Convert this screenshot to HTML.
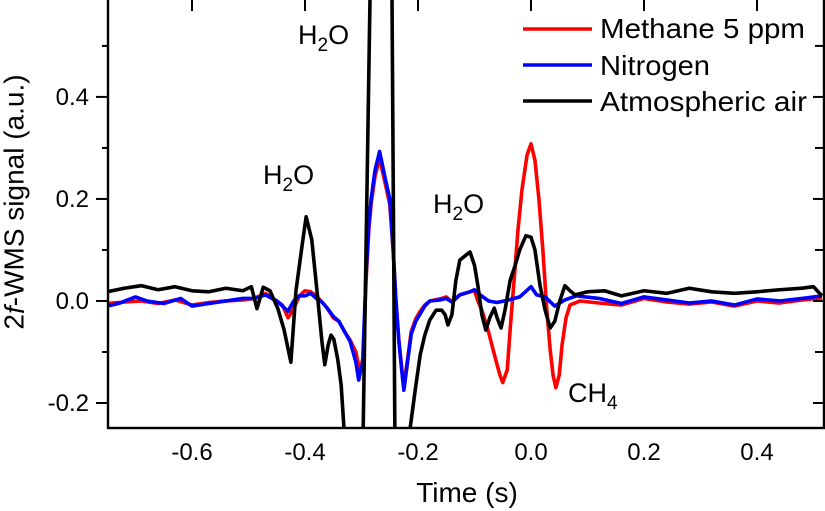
<!DOCTYPE html>
<html><head><meta charset="utf-8">
<style>
html,body{margin:0;padding:0;background:#fff;}
svg{display:block;font-family:"Liberation Sans",Arial,sans-serif;}
</style></head>
<body>
<svg id="chart" width="825" height="511" viewBox="0 0 825 511">
<defs><clipPath id="plotclip"><rect x="108" y="0" width="716" height="428"/></clipPath></defs>
<g id="series" clip-path="url(#plotclip)"></g>
<rect x="108" y="-2" width="716" height="430" fill="none" stroke="#000" stroke-width="2.4"/>
<g id="axes"></g>
<text x="14" y="202" font-size="28" text-anchor="middle" transform="rotate(-90 14 202)" dominant-baseline="central">2<tspan font-style="italic">f</tspan>-WMS signal (a.u.)</text>
<text x="467" y="502" font-size="28" text-anchor="middle">Time (s)</text>
<text x="298" y="44" font-size="27">H<tspan font-size="19" dy="7">2</tspan><tspan dy="-7">O</tspan></text>
<text x="263" y="184" font-size="27">H<tspan font-size="19" dy="7">2</tspan><tspan dy="-7">O</tspan></text>
<text x="433" y="213" font-size="27">H<tspan font-size="19" dy="7">2</tspan><tspan dy="-7">O</tspan></text>
<text x="568" y="402" font-size="27">CH<tspan font-size="19" dy="7">4</tspan></text>
<g>
<line x1="523" y1="29" x2="592" y2="29" stroke="#ff0000" stroke-width="3.5"/>
<text x="600" y="38" font-size="28" textLength="205" lengthAdjust="spacingAndGlyphs">Methane 5 ppm</text>
<line x1="523" y1="65" x2="592" y2="65" stroke="#0000ff" stroke-width="3.5"/>
<text x="600" y="75" font-size="28" textLength="110" lengthAdjust="spacingAndGlyphs">Nitrogen</text>
<line x1="523" y1="101" x2="592" y2="101" stroke="#000" stroke-width="3.5"/>
<text x="600" y="111" font-size="28" textLength="207" lengthAdjust="spacingAndGlyphs">Atmospheric air</text>
</g>
</svg>
<script>
const xTicks = [-0.6, -0.4, -0.2, 0.0, 0.2, 0.4];
const xTickLabels = ["-0.6", "-0.4", "-0.2", "0.0", "0.2", "0.4"];
const yTicks = [-0.2, 0.0, 0.2, 0.4];
const yTickLabels = ["-0.2", "0.0", "0.2", "0.4"];
const yMinorTicks = [-0.1, 0.1, 0.3, 0.5];

const tAir = [-0.75,-0.72,-0.69,-0.66,-0.63,-0.60,-0.57,-0.54,-0.51,-0.495,-0.485,-0.474,-0.462,-0.448,-0.437,-0.425,-0.416,-0.405,-0.398,-0.388,-0.377,-0.37,-0.365,-0.359,-0.354,-0.349,-0.342,-0.336,-0.331,-0.32,-0.305,-0.297,-0.285,-0.275,-0.255,-0.246,-0.241,-0.23,-0.214,-0.205,-0.196,-0.188,-0.179,-0.168,-0.158,-0.152,-0.147,-0.14,-0.133,-0.126,-0.115,-0.108,-0.1,-0.094,-0.087,-0.08,-0.073,-0.065,-0.06,-0.053,-0.046,-0.037,-0.028,-0.02,-0.009,0.0,0.007,0.016,0.025,0.034,0.042,0.051,0.06,0.069,0.078,0.1,0.13,0.16,0.2,0.24,0.28,0.32,0.36,0.4,0.44,0.48,0.5,0.515];
const air = [0.018,0.025,0.03,0.022,0.028,0.02,0.018,0.025,0.02,0.028,-0.015,0.027,0.02,-0.015,-0.057,-0.12,0.02,0.11,0.165,0.12,0.0,-0.08,-0.125,-0.086,-0.067,-0.075,-0.115,-0.165,-0.25,-0.35,-0.4,-0.25,0.59,0.9,0.9,0.59,-0.25,-0.4,-0.25,-0.175,-0.105,-0.067,-0.037,-0.018,-0.018,-0.027,-0.047,-0.027,0.04,0.08,0.09,0.096,0.07,0.03,-0.027,-0.057,-0.033,-0.014,-0.033,-0.053,-0.018,0.04,0.07,0.1,0.128,0.125,0.1,0.03,-0.018,-0.053,-0.04,0.0,0.03,0.02,0.012,0.018,0.02,0.01,0.02,0.015,0.025,0.018,0.015,0.018,0.022,0.025,0.028,0.01];

const tN2 = [-0.75,-0.73,-0.70,-0.68,-0.65,-0.62,-0.60,-0.57,-0.54,-0.51,-0.49,-0.47,-0.45,-0.44,-0.43,-0.42,-0.41,-0.40,-0.39,-0.38,-0.37,-0.36,-0.35,-0.34,-0.33,-0.32,-0.31,-0.305,-0.298,-0.292,-0.287,-0.283,-0.276,-0.268,-0.258,-0.25,-0.244,-0.239,-0.234,-0.228,-0.225,-0.218,-0.212,-0.204,-0.196,-0.188,-0.179,-0.161,-0.15,-0.14,-0.126,-0.108,-0.1,-0.09,-0.075,-0.06,-0.04,-0.02,0.0,0.01,0.025,0.042,0.06,0.08,0.12,0.16,0.2,0.24,0.28,0.32,0.36,0.4,0.44,0.48,0.515];
const n2 = [-0.01,-0.005,0.008,0.0,-0.005,0.005,-0.01,-0.005,0.0,0.005,0.005,0.012,0.0,-0.01,-0.02,0.0,0.01,0.01,0.015,0.005,-0.002,-0.015,-0.03,-0.04,-0.06,-0.08,-0.12,-0.155,-0.12,0.05,0.15,0.2,0.257,0.293,0.24,0.2,0.1,0.0,-0.077,-0.145,-0.175,-0.115,-0.065,-0.04,-0.025,-0.01,0.0,0.002,0.005,-0.002,0.012,0.018,0.022,0.012,0.0,-0.003,0.002,0.008,0.028,0.012,0.008,-0.01,0.002,0.01,0.005,-0.005,0.008,0.002,-0.004,0.0,-0.008,0.004,0.0,0.005,0.01];

const tCH4 = [-0.75,-0.72,-0.69,-0.66,-0.63,-0.60,-0.57,-0.54,-0.51,-0.49,-0.47,-0.45,-0.44,-0.43,-0.42,-0.41,-0.40,-0.39,-0.38,-0.37,-0.36,-0.35,-0.34,-0.33,-0.32,-0.31,-0.303,-0.297,-0.292,-0.287,-0.283,-0.276,-0.268,-0.258,-0.25,-0.244,-0.239,-0.234,-0.228,-0.225,-0.218,-0.212,-0.204,-0.196,-0.188,-0.179,-0.161,-0.15,-0.14,-0.126,-0.108,-0.1,-0.094,-0.087,-0.076,-0.067,-0.06,-0.055,-0.05,-0.042,-0.037,-0.03,-0.023,-0.016,-0.007,0.0,0.007,0.014,0.021,0.028,0.034,0.039,0.044,0.05,0.055,0.062,0.069,0.087,0.12,0.16,0.2,0.24,0.28,0.32,0.36,0.4,0.44,0.48,0.515];
const ch4 = [-0.005,-0.002,0.0,-0.005,0.002,-0.008,-0.003,0.0,0.002,0.005,0.015,0.0,-0.008,-0.033,-0.015,0.01,0.02,0.018,0.01,-0.002,-0.015,-0.033,-0.04,-0.06,-0.077,-0.1,-0.14,-0.11,0.04,0.14,0.19,0.245,0.28,0.23,0.19,0.1,0.0,-0.077,-0.14,-0.165,-0.11,-0.06,-0.035,-0.02,-0.008,0.0,0.004,0.008,-0.002,0.012,0.018,0.02,0.0,-0.018,-0.057,-0.096,-0.125,-0.145,-0.16,-0.135,-0.057,0.04,0.14,0.218,0.286,0.308,0.276,0.2,0.1,-0.018,-0.096,-0.145,-0.17,-0.145,-0.086,-0.033,-0.008,0.0,-0.004,-0.008,0.005,-0.002,-0.006,-0.002,-0.01,0.0,-0.004,0.002,0.006];

const X0 = 108, X1 = 824, Y0 = 428, Y1 = 0;
const xMin = -0.7487, xMax = 0.5186, yMin = -0.249, yMax = 0.590;
function xs(v){ return X0 + (v - xMin) / (xMax - xMin) * (X1 - X0); }
function ys(v){ return Y0 - (v - yMin) / (yMax - yMin) * (Y0 - Y1); }

const NS = "http://www.w3.org/2000/svg";
const series = document.getElementById("series");
const axes = document.getElementById("axes");

function drawSeries(ts, vs, color, name){
  let d = "";
  for (let i = 0; i < ts.length; i++) d += (i ? "L" : "M") + xs(ts[i]).toFixed(2) + "," + ys(vs[i]).toFixed(2);
  const p = document.createElementNS(NS, "path");
  p.setAttribute("d", d);
  p.setAttribute("fill", "none");
  p.setAttribute("stroke", color);
  p.setAttribute("stroke-width", "3.6");
  p.setAttribute("stroke-linejoin", "round");
  
  
  series.appendChild(p);
}
drawSeries(tCH4, ch4, "#ff0000", "methane-line");
drawSeries(tN2, n2, "#0000ff", "nitrogen-line");
drawSeries(tAir, air, "#000000", "atmospheric-air-line");

function line(x1,y1,x2,y2){
  const l = document.createElementNS(NS, "line");
  l.setAttribute("x1", x1); l.setAttribute("y1", y1);
  l.setAttribute("x2", x2); l.setAttribute("y2", y2);
  l.setAttribute("stroke", "#000"); l.setAttribute("stroke-width", "2");
  return l;
}
function text(x, y, s, anchor){
  const t = document.createElementNS(NS, "text");
  t.setAttribute("x", x); t.setAttribute("y", y);
  t.setAttribute("font-size", "24");
  t.setAttribute("text-anchor", anchor);
  t.textContent = s;
  return t;
}
xTicks.forEach((v, i) => {
  const x = xs(v);
  const tk = line(x, 0, x, 11);
  
  
  axes.appendChild(tk);
  const lb = text(x, 460, xTickLabels[i], "middle");
  
  
  axes.appendChild(lb);
});
yTicks.forEach((v, i) => {
  const y = ys(v);
  const tk = line(96, y, 108, y);
  
  
  axes.appendChild(tk);
  const rt = line(813, y, 824, y);
  
  
  axes.appendChild(rt);
  const lb = text(89, y + 8, yTickLabels[i], "end");
  
  
  axes.appendChild(lb);
});
yMinorTicks.forEach(v => {
  const y = ys(v);
  const tk = line(102, y, 108, y);
  
  
  axes.appendChild(tk);
  const rt = line(815, y, 824, y);
  
  
  axes.appendChild(rt);
});
</script>
</body></html>
